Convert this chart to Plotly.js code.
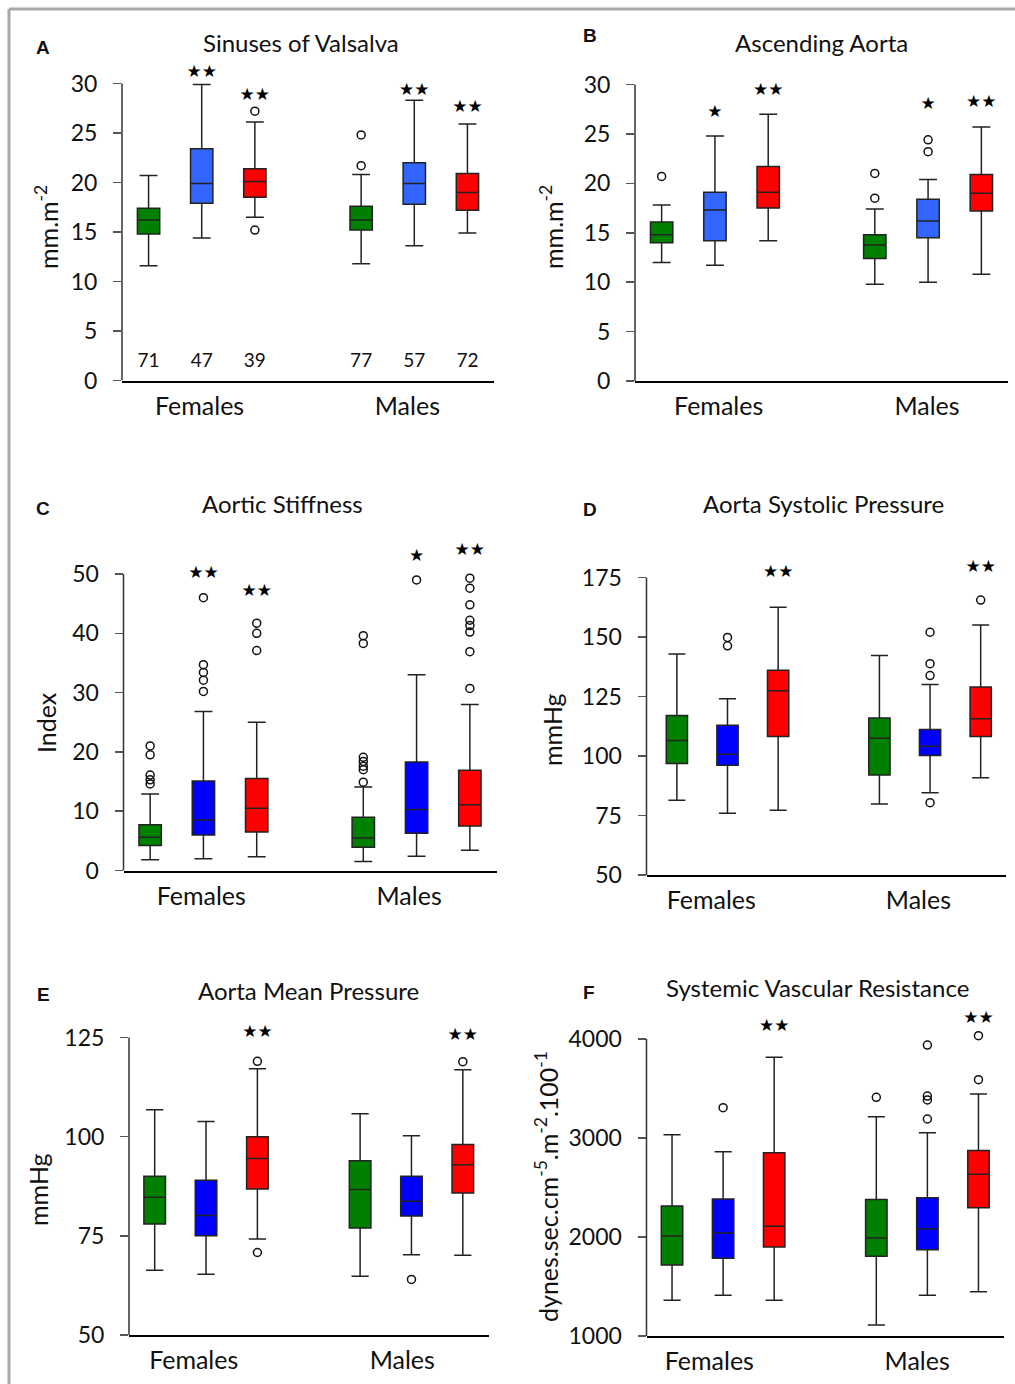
<!DOCTYPE html>
<html>
<head>
<meta charset="utf-8">
<script src="https://cdn.plot.ly/plotly-3.0.1.min.js"></script>
<style>html,body{margin:0;padding:0;background:#fff;}#chart{width:1015px;height:1384px;}</style>
</head>
<body>
<div id="chart"></div>
<script>
// ---------- categories / labels ----------
const groups = ['Females', 'Males'];
const panelLetters = ['A', 'B', 'C', 'D', 'E', 'F'];
const panelTitles = ['Sinuses of Valsalva', 'Ascending Aorta', 'Aortic Stiffness',
  'Aorta Systolic Pressure', 'Aorta Mean Pressure', 'Systemic Vascular Resistance'];
const yTitles = ['mm.m<sup>-2</sup>', 'mm.m<sup>-2</sup>', 'Index', 'mmHg', 'mmHg',
  'dynes.sec.cm<sup>-5</sup>.m<sup>-2</sup>.100<sup>-1</sup>'];

// ---------- A: Sinuses of Valsalva ----------
const valsalvaLow  = [11.6, 14.4, 16.5, 11.8, 13.6, 14.9];
const valsalvaQ1   = [14.8, 17.9, 18.5, 15.2, 17.8, 17.2];
const valsalvaMed  = [16.2, 19.9, 20.1, 16.2, 19.9, 19.0];
const valsalvaQ3   = [17.4, 23.4, 21.4, 17.6, 22.0, 20.9];
const valsalvaHigh = [20.7, 29.9, 26.1, 20.8, 28.3, 25.9];
const valsalvaOut  = [[], [], [27.2, 15.2], [24.8, 21.7], [], []];
const valsalvaStars = ['', '★★', '★★', '', '★★', '★★'];
const valsalvaStarY = [0, 31.1, 28.8, 0, 29.3, 27.5];
const valsalvaN = [71, 47, 39, 77, 57, 72];

// ---------- B: Ascending Aorta ----------
const ascLow  = [12.0, 11.7, 14.2, 9.8, 10.0, 10.8];
const ascQ1   = [14.0, 14.2, 17.5, 12.4, 14.5, 17.2];
const ascMed  = [14.8, 17.3, 19.1, 13.75, 16.2, 19.0];
const ascQ3   = [16.1, 19.1, 21.7, 14.8, 18.4, 20.9];
const ascHigh = [17.8, 24.8, 27.0, 17.4, 20.4, 25.7];
const ascOut  = [[20.7], [], [], [21.0, 18.5], [24.4, 23.2], []];
const ascStars = ['', '★', '★★', '', '★', '★★'];
const ascStarY = [0, 27.1, 29.4, 0, 28.0, 28.2];

// ---------- C: Aortic Stiffness ----------
const stiffLow  = [1.8, 2.0, 2.3, 1.5, 2.4, 3.4];
const stiffQ1   = [4.2, 6.0, 6.5, 3.9, 6.3, 7.5];
const stiffMed  = [5.6, 8.5, 10.5, 5.5, 10.3, 11.1];
const stiffQ3   = [7.7, 15.1, 15.5, 9.0, 18.3, 16.9];
const stiffHigh = [12.9, 26.8, 25.0, 14.1, 33.0, 28.0];
const stiffOut  = [[21.0, 19.5, 16.1, 15.3, 14.6], [46.0, 34.7, 33.4, 32.1, 30.2], [41.7, 40.0, 37.1],
  [39.6, 38.3, 19.1, 18.4, 17.6, 17.0, 14.9], [49.0], [49.3, 47.6, 44.8, 42.2, 41.3, 40.2, 36.9, 30.7]];
const stiffStars = ['', '★★', '★★', '', '★', '★★'];
const stiffStarY = [0, 50.0, 47.0, 0, 52.9, 54.0];

// ---------- D: Aorta Systolic Pressure ----------
const sysLow  = [81.4, 75.9, 77.2, 79.8, 84.6, 90.9];
const sysQ1   = [96.9, 96.1, 108.2, 92.0, 100.2, 108.2];
const sysMed  = [106.5, 100.7, 127.4, 107.5, 104.1, 115.7];
const sysQ3   = [117.0, 112.9, 136.0, 116.0, 111.1, 129.0];
const sysHigh = [142.9, 124.1, 162.5, 142.2, 130.0, 155.0];
const sysOut  = [[], [149.8, 146.3], [], [], [152.0, 138.8, 133.8, 80.4], [165.5]];
const sysStars = ['', '', '★★', '', '', '★★'];
const sysStarY = [0, 0, 177.1, 0, 0, 178.9];

// ---------- E: Aorta Mean Pressure ----------
const meanLow  = [66.3, 65.3, 74.2, 64.8, 70.2, 70.1];
const meanQ1   = [78.0, 75.0, 86.8, 77.0, 80.0, 85.8];
const meanMed  = [84.7, 80.1, 94.5, 86.7, 83.7, 92.9];
const meanQ3   = [90.0, 89.0, 100.0, 93.9, 90.0, 98.0];
const meanHigh = [106.8, 103.8, 117.1, 105.8, 100.2, 116.9];
const meanOut  = [[], [], [119.0, 70.8], [], [64.0], [118.9]];
const meanStars = ['', '', '★★', '', '', '★★'];
const meanStarY = [0, 0, 126.2, 0, 0, 125.5];

// ---------- F: Systemic Vascular Resistance ----------
const svrLow  = [1360, 1411, 1360, 1111, 1411, 1448];
const svrQ1   = [1717, 1785, 1899, 1805, 1872, 2296];
const svrMed  = [2010, 2040, 2108, 1990, 2081, 2633];
const svrQ3   = [2313, 2384, 2852, 2380, 2397, 2875];
const svrHigh = [3034, 2862, 3815, 3215, 3054, 3444];
const svrOut  = [[], [3306], [], [3411], [3939, 3424, 3384, 3192], [4034, 3589]];
const svrStars = ['', '', '★★', '', '', '★★'];
const svrStarY = [0, 0, 4121, 0, 0, 4209];

// ---------- layout / style (not data) ----------
const W = 1015, H = 1384;
const FONT = 'Lato, "Open Sans", sans-serif';
const positions = [0, 1, 2, 4, 5, 6];
const greenC = '#008000', redC = '#ff0000';
// box: [left px, right px, px of top tick, px of axis bottom]; yr: [bottom, top tick]; head: extra headroom (data units)
const panels = [
  {low: valsalvaLow, q1: valsalvaQ1, med: valsalvaMed, q3: valsalvaQ3, high: valsalvaHigh, out: valsalvaOut,
   stars: valsalvaStars, starY: valsalvaStarY, box: [122, 494, 83.5, 380.5], xr: [-0.5, 6.5], yr: [0, 30], head: 2, dt: 5,
   blue: '#3366ff', lab: [0.96, 4.87], title: [301, 42], letter: [43, 48], ytl: [47, 227]},
  {low: ascLow, q1: ascQ1, med: ascMed, q3: ascQ3, high: ascHigh, out: ascOut,
   stars: ascStars, starY: ascStarY, box: [635, 1008, 84.5, 381], xr: [-0.5, 6.5], yr: [0, 30], head: 1.5, dt: 5,
   blue: '#3366ff', lab: [1.07, 4.98], title: [821, 42], letter: [590, 35], ytl: [552, 227]},
  {low: stiffLow, q1: stiffQ1, med: stiffMed, q3: stiffQ3, high: stiffHigh, out: stiffOut,
   stars: stiffStars, starY: stiffStarY, box: [123.5, 496.5, 574, 870.5], xr: [-0.5, 6.5], yr: [0, 50], head: 6, dt: 10,
   blue: '#0000ff', lab: [0.96, 4.86], title: [282, 503], letter: [43, 508], ytl: [46, 723]},
  {low: sysLow, q1: sysQ1, med: sysMed, q3: sysQ3, high: sysHigh, out: sysOut,
   stars: sysStars, starY: sysStarY, box: [646.5, 1006, 577.5, 875], xr: [-0.6, 6.5], yr: [50, 175], head: 8, dt: 25,
   blue: '#0000ff', lab: [0.68, 4.77], title: [823, 503], letter: [590, 509], ytl: [552, 730]},
  {low: meanLow, q1: meanQ1, med: meanMed, q3: meanQ3, high: meanHigh, out: meanOut,
   stars: meanStars, starY: meanStarY, box: [129, 488.5, 1037.5, 1335], xr: [-0.5, 6.5], yr: [50, 125], head: 4, dt: 25,
   blue: '#0000ff', lab: [0.76, 4.82], title: [308, 990], letter: [43, 994], ytl: [38, 1190]},
  {low: svrLow, q1: svrQ1, med: svrMed, q3: svrQ3, high: svrHigh, out: svrOut,
   stars: svrStars, starY: svrStarY, box: [646.5, 1004, 1039, 1336], xr: [-0.5, 6.5], yr: [1000, 4000], head: 300, dt: 1000,
   blue: '#0000ff', lab: [0.73, 4.80], title: [817, 988], letter: [589, 992], ytl: [546, 1187]}
];

const px = v => v / W;
const py = v => 1 - v / H;

const traces = [];
const layout = {
  width: W, height: H, margin: {l: 0, r: 0, t: 0, b: 0},
  paper_bgcolor: '#fff', plot_bgcolor: 'rgba(0,0,0,0)', showlegend: false,
  font: {family: FONT, color: '#111'},
  annotations: [], shapes: []
};

panels.forEach((p, i) => {
  const n = i === 0 ? '' : String(i + 1);
  const xa = 'x' + n, ya = 'y' + n;
  const colors = [greenC, p.blue, redC, greenC, p.blue, redC];
  for (let k = 0; k < 6; k++) {
    traces.push({
      type: 'box', xaxis: xa, yaxis: ya, x: [positions[k]],
      q1: [p.q1[k]], median: [p.med[k]], q3: [p.q3[k]],
      lowerfence: [p.low[k]], upperfence: [p.high[k]],
      boxpoints: false, width: 0.42, whiskerwidth: 0.8,
      fillcolor: colors[k], line: {color: '#222', width: 1.5},
      hoverinfo: 'skip'
    });
  }
  // outliers
  const ox = [], oy = [];
  p.out.forEach((arr, k) => arr.forEach(v => { ox.push(positions[k]); oy.push(v); }));
  traces.push({type: 'scatter', mode: 'markers', xaxis: xa, yaxis: ya, x: ox, y: oy, cliponaxis: false,
    marker: {symbol: 'circle-open', size: 8, color: '#111', line: {width: 1.5, color: '#111'}}, hoverinfo: 'skip'});
  // stars
  const sx = [], sy = [], st = [];
  p.stars.forEach((s, k) => { if (s) { sx.push(positions[k]); sy.push(p.starY[k]); st.push(s); } });
  traces.push({type: 'scatter', mode: 'text', xaxis: xa, yaxis: ya, x: sx, y: sy, text: st, cliponaxis: false,
    textposition: 'middle center', textfont: {family: 'DejaVu Sans', size: 17, color: '#000'}, hoverinfo: 'skip'});

  // vertical extent: extend range above the top tick so the stars fit, keep the axis line to the top tick
  const pxPerUnit = (p.box[3] - p.box[2]) / (p.yr[1] - p.yr[0]);
  const topPx = p.box[2] - p.head * pxPerUnit;
  const yTop = p.yr[1] + p.head;

  layout['xaxis' + n] = {
    domain: [px(p.box[0]), px(p.box[1])], anchor: ya, range: p.xr, fixedrange: true,
    showline: true, linecolor: '#000', linewidth: 2, ticks: '', showgrid: false, zeroline: false,
    tickmode: 'array', tickvals: p.lab, ticktext: groups,
    tickfont: {family: FONT, size: 25, color: '#111'}, ticklabelstandoff: 2
  };
  layout['yaxis' + n] = {
    domain: [py(p.box[3]), py(topPx)], anchor: xa, range: [p.yr[0], yTop], dtick: p.dt, tick0: p.yr[0], fixedrange: true,
    showline: false, ticks: 'outside', ticklen: 8, tickwidth: 1.5, tickcolor: '#555',
    showgrid: false, zeroline: false, tickfont: {family: FONT, size: 23, color: '#111'}, ticklabelstandoff: 11
  };
  layout.shapes.push({type: 'line', xref: xa + ' domain', yref: ya, x0: 0, x1: 0, y0: p.yr[0], y1: p.yr[1],
    line: {color: '#333', width: 1.5}, layer: 'above'});
  layout.annotations.push({xref: 'paper', yref: 'paper', x: px(p.title[0]), y: py(p.title[1]),
    text: panelTitles[i], showarrow: false, xanchor: 'center', yanchor: 'middle',
    font: {family: FONT, size: 24, color: '#111'}});
  layout.annotations.push({xref: 'paper', yref: 'paper', x: px(p.letter[0]), y: py(p.letter[1]),
    text: '<b>' + panelLetters[i] + '</b>', showarrow: false, xanchor: 'center', yanchor: 'middle',
    font: {family: 'Liberation Sans, Arial, sans-serif', size: 19, color: '#111'}});
  layout.annotations.push({xref: 'paper', yref: 'paper', x: px(p.ytl[0]), y: py(p.ytl[1]),
    text: yTitles[i], showarrow: false, textangle: -90, xanchor: 'center', yanchor: 'middle',
    font: {family: FONT, size: 25, color: '#111'}});
});

// sample sizes in panel A
traces.push({type: 'scatter', mode: 'text', xaxis: 'x', yaxis: 'y', x: positions, y: positions.map(() => 1.8),
  text: valsalvaN.map(String), textposition: 'middle center',
  textfont: {family: FONT, size: 19, color: '#111'}, hoverinfo: 'skip'});

// outer frame
layout.shapes.push({type: 'line', xref: 'paper', yref: 'paper', x0: px(9), x1: 1, y0: py(9), y1: py(9),
  line: {color: '#a8a8a8', width: 3}});
layout.shapes.push({type: 'line', xref: 'paper', yref: 'paper', x0: px(9), x1: px(9), y0: py(9), y1: 0,
  line: {color: '#a8a8a8', width: 3}});

Plotly.newPlot('chart', traces, layout, {staticPlot: true, displayModeBar: false});
</script>
</body>
</html>
